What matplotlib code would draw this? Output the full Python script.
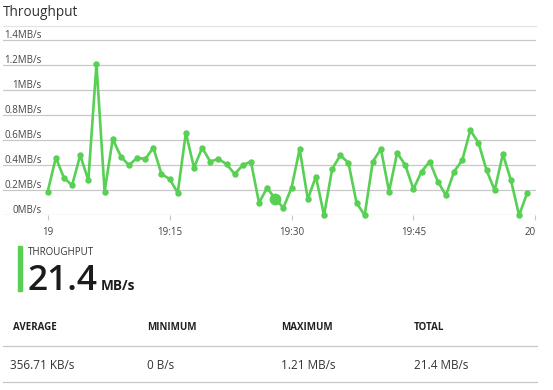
import matplotlib
matplotlib.use('Agg')
import matplotlib.pyplot as plt
import matplotlib.transforms as mtransforms
from matplotlib.lines import Line2D
from matplotlib.patches import Rectangle

# data: one value per minute, 19:00 - 19:59, in MB/s
minutes = list(range(60))
throughput = [0.19, 0.46, 0.30, 0.24, 0.48, 0.28, 1.21, 0.19, 0.61, 0.47,
              0.40, 0.46, 0.45, 0.54, 0.33, 0.29, 0.18, 0.66, 0.38, 0.54,
              0.43, 0.45, 0.41, 0.33, 0.40, 0.43, 0.10, 0.22, 0.13, 0.06,
              0.22, 0.53, 0.13, 0.31, 0.00, 0.37, 0.48, 0.42, 0.10, 0.00,
              0.43, 0.53, 0.19, 0.50, 0.40, 0.21, 0.35, 0.43, 0.27, 0.16,
              0.35, 0.44, 0.68, 0.58, 0.36, 0.20, 0.49, 0.28, 0.00, 0.18]
highlight = 28

y_ticks = [0, 0.2, 0.4, 0.6, 0.8, 1.0, 1.2, 1.4]
y_labels = ['0MB/s', '0.2MB/s', '0.4MB/s', '0.6MB/s', '0.8MB/s', '1MB/s', '1.2MB/s', '1.4MB/s']
x_ticks = [0, 15, 30, 45, 60]
x_labels = ['19', '19:15', '19:30', '19:45', '20']

big_label = 'THROUGHPUT'
big_value = '21.4'
big_unit = 'MB/s'
stat_names = ['AVERAGE', 'MINIMUM', 'MAXIMUM', 'TOTAL']
stat_values = ['356.71 KB/s', '0 B/s', '1.21 MB/s', '21.4 MB/s']

plt.rcParams['font.family'] = ['Open Sans', 'DejaVu Sans']

W, H = 553, 390
green = '#57d053'
grid_c = '#c8c8c8'

def fx(px):
    return px / W

def fy(py):
    return 1 - py / H

fig = plt.figure(figsize=(W / 100, H / 100), dpi=100)

# title
fig.text(fx(3), fy(15.7), 'Throughput', fontsize=9.8, color='#323130', va='baseline')

# chart area
ax = fig.add_axes([fx(3), fy(215.3), fx(536) - fx(3), (215.3 - 26) / H])
ax.set_xlim(-5.5, 60.08)
ax.set_ylim(0, 1.514)
for s in ['left', 'right', 'bottom']:
    ax.spines[s].set_visible(False)
ax.spines['top'].set_color('#e4e4e4')
ax.spines['top'].set_linewidth(0.9)

ax.set_yticks(y_ticks)
ax.yaxis.grid(True, color=grid_c, lw=0.9)
ax.set_axisbelow(True)
ax.tick_params(axis='y', length=0, labelleft=False)

ax.set_xticks(x_ticks, x_labels)
ax.tick_params(axis='x', length=3.5, width=0.8, color=grid_c, pad=5,
               labelsize=7, labelcolor='#444444')
ax.get_xticklabels()[-1].set_ha('right')

trans = mtransforms.blended_transform_factory(ax.transAxes, ax.transData)
trans = mtransforms.offset_copy(trans, fig=fig, y=2, units='dots')
for v, lab in zip(y_ticks, y_labels):
    ax.text((41.7 - 3) / 533, v, lab, transform=trans, ha='right', va='baseline',
            fontsize=7, color='#444444')

ax.plot(minutes, throughput, color=green, lw=1.9, marker='o', ms=3.6,
        clip_on=False, solid_joinstyle='round', zorder=3)
ax.plot(minutes[highlight], throughput[highlight], 'o', color=green, ms=7.5,
        clip_on=False, zorder=4)

# summary block
fig.add_artist(Rectangle((fx(17.7), fy(291)), 4.5 / W, 45 / H, color=green,
                         transform=fig.transFigure))
fig.text(fx(28.3), fy(255), big_label, fontsize=7, color='#333333', va='baseline')
fig.text(fx(27.5), fy(290.3), big_value, fontsize=25.5, color='#1b1b1b',
         fontweight='semibold', va='baseline')
fig.text(fx(101), fy(290.3), big_unit, fontsize=9.8, color='#1b1b1b',
         fontweight='bold', va='baseline')

cols = [13.3, 146.7, 281, 414]
val_x = [10, 146.7, 281, 414]
for x, vx, name, val in zip(cols, val_x, stat_names, stat_values):
    fig.text(fx(x), fy(330), name, fontsize=7, fontweight='bold', color='#222222', va='baseline')
    fig.text(fx(vx), fy(368.7), val, fontsize=8.5, color='#333333', va='baseline')

for yy in [346, 382]:
    fig.add_artist(Line2D([fx(3), fx(537)], [fy(yy), fy(yy)], color=grid_c, lw=0.9,
                          transform=fig.transFigure))

fig.savefig('out.png', dpi=100)
